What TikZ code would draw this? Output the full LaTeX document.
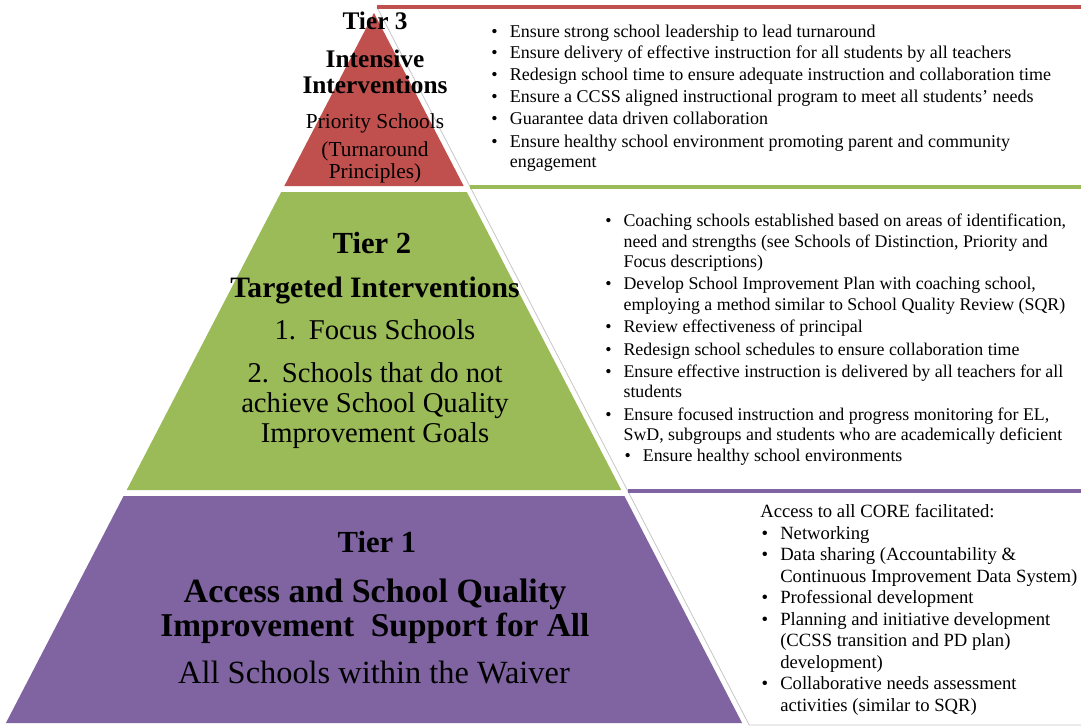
\documentclass[tikz,border=0pt]{standalone}
\usepackage{fontspec}
\setmainfont{Liberation Serif}
\definecolor{tierred}{HTML}{C0504D}
\definecolor{tiergreen}{HTML}{9BBB59}
\definecolor{tierpurple}{HTML}{8064A2}
\newcommand{\fsz}[2]{\fontsize{#1}{#2}\selectfont}
\newcommand{\blt}{\llap{\textbullet\hspace{9pt}}}
\newcommand{\indnt}{\hspace*{15pt}}

\begin{document}
\begin{tikzpicture}[x=0.75pt,y=-0.75pt,
        stripe/.style={line width=2.6pt},
        boxedge/.style={draw=black!22,line width=0.6pt},
        tierhead/.style={anchor=base,inner sep=0pt},
        tiertext/.style={anchor=base,inner sep=0pt},
        bullets/.style={anchor=base west,inner sep=0pt,align=left}]
\useasboundingbox (0,0) rectangle (1081,726);
\fill[white] (0,0) rectangle (1081,726);

% pyramid
\fill[tierred] (374,13) -- (463.7,186) -- (284.3,186) -- cycle;
\fill[tiergreen] (281.2,192) -- (466.8,192) -- (621.3,490) -- (126.7,490) -- cycle;
\fill[tierpurple] (123.6,496) -- (624.4,496) -- (742.1,723) -- (5.9,723) -- cycle;

% text boxes on the right
\coordinate (r0) at (376.9,7);
\coordinate (g0) at (470.2,187);
\coordinate (p0) at (627.8,491);
\coordinate (p1) at (749.2,725);
\coordinate (e1) at (1081,725);
\draw[boxedge] (r0) -- (g0) -- (p0) -- (p1) -- (e1);
\draw[stripe,tierred] (r0) -- (1081,7);
\draw[stripe,tiergreen] (g0) -- (1081,187);
\draw[stripe,tierpurple] (p0) -- (1081,491);

% tier 3
\node[tierhead,font=\fsz{19}{22}\bfseries] (t3) at (375,29) {Tier 3};
\node[tierhead,font=\fsz{19}{22}\bfseries] (t3a) at (375,67) {Intensive};
\node[tierhead,font=\fsz{19}{22}\bfseries] (t3b) at (375,93) {Interventions};
\node[tiertext,font=\fsz{16}{19}] (t3c) at (375,128) {Priority Schools};
\node[tiertext,font=\fsz{16}{19}] (t3d) at (375,156) {(Turnaround};
\node[tiertext,font=\fsz{16}{19}] (t3e) at (375,178) {Principles)};

% tier 2
\node[tierhead,font=\fsz{23}{26}\bfseries] (t2) at (372,253.5) {Tier 2};
\node[tierhead,font=\fsz{22.2}{26}\bfseries] (t2a) at (375,297) {Targeted Interventions};
\node[tiertext,font=\fsz{21.5}{25}] (t2b) at (375,339.5) {1.\hspace{0.45em}Focus Schools};
\node[tiertext,font=\fsz{21.5}{25}] (t2c) at (375,382) {2.\hspace{0.45em}Schools that do not};
\node[tiertext,font=\fsz{21.5}{25}] (t2d) at (375,412) {achieve School Quality};
\node[tiertext,font=\fsz{21.5}{25}] (t2e) at (375,442) {Improvement Goals};

% tier 1
\node[tierhead,font=\fsz{23}{26}\bfseries] (t1) at (377,552) {Tier 1};
\node[tierhead,font=\fsz{25.5}{30}\bfseries] (t1a) at (375,602) {Access and School Quality};
\node[tierhead,font=\fsz{25}{30}\bfseries] (t1b) at (375,636) {Improvement\ \ Support for All};
\node[tiertext,font=\fsz{24.3}{28}] (t1c) at (374,683) {All Schools within the Waiver};

% lists (base = last line)
\node[bullets,font=\fsz{13.5}{15}] (list3) at (509.5,167) {\blt Ensure strong school leadership to lead turnaround\\[1.3pt]
\blt Ensure delivery of effective instruction for all students by all teachers\\[1.3pt]
\blt Redesign school time to ensure adequate instruction and collaboration time\\[1.3pt]
\blt Ensure a CCSS aligned instructional program to meet all students’ needs\\[1.3pt]
\blt Guarantee data driven collaboration\\[2.2pt]
\blt Ensure healthy school environment promoting parent and community\\
engagement};

\node[bullets,font=\fsz{13.4}{15.2}] (list2) at (623.3,461) {\blt Coaching schools established based on areas of identification,\\
need and strengths (see Schools of Distinction, Priority and\\
Focus descriptions)\\[1.7pt]
\blt Develop School Improvement Plan with coaching school,\\
employing a method similar to School Quality Review (SQR)\\[1.7pt]
\blt Review effectiveness of principal\\[1.7pt]
\blt Redesign school schedules to ensure collaboration time\\[1.7pt]
\blt Ensure effective instruction is delivered by all teachers for all\\
students\\[1.7pt]
\blt Ensure focused instruction and progress monitoring for EL,\\
SwD, subgroups and students who are academically deficient\\
\hspace*{14.5pt}\blt Ensure healthy school environments};

\node[bullets,font=\fsz{14}{16.1}] (list1) at (760,711) {Access to all CORE facilitated:\\
\indnt\blt Networking\\
\indnt\blt Data sharing (Accountability \&\\
\indnt Continuous Improvement Data System)\\
\indnt\blt Professional development\\
\indnt\blt Planning and initiative development\\
\indnt (CCSS transition and PD plan)\\
\indnt development)\\
\indnt\blt Collaborative needs assessment\\
\indnt activities (similar to SQR)};

\end{tikzpicture}
\end{document}
